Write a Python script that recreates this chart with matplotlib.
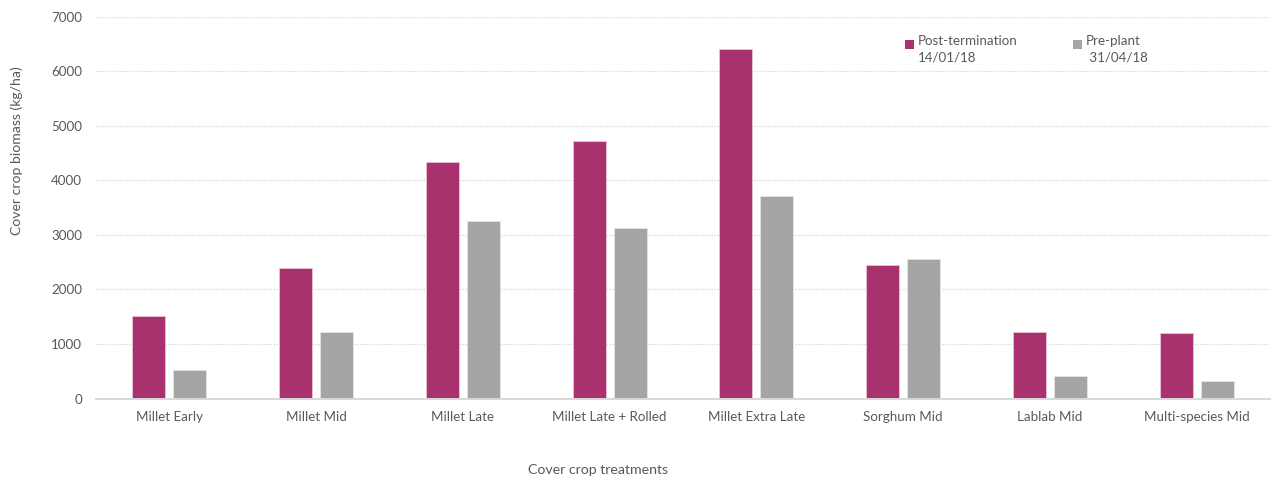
import matplotlib
matplotlib.use("Agg")
import matplotlib.pyplot as plt
import numpy as np
from matplotlib.patches import Rectangle
from matplotlib.legend_handler import HandlerBase

plt.rcParams['font.family'] = ['Lato', 'DejaVu Sans']

categories = ["Millet Early", "Millet Mid", "Millet Late", "Millet Late + Rolled",
              "Millet Extra Late", "Sorghum Mid", "Lablab Mid", "Multi-species Mid"]
post_termination = [1520, 2392, 4333, 4718, 6416, 2454, 1220, 1201]
pre_plant = [531, 1227, 3260, 3125, 3711, 2564, 421, 330]
series_labels = ["Post-termination\n14/01/18", "Pre-plant\n 31/04/18"]
yticks = [0, 1000, 2000, 3000, 4000, 5000, 6000, 7000]

c_post = "#A9316D"
c_pre = "#A5A5A5"
txt = "#595959"
grid_c = "#D9D9D9"


class TopSquareHandler(HandlerBase):
    """Square legend key aligned with the first line of a two-line label."""
    def create_artists(self, legend, orig_handle, xdescent, ydescent,
                       width, height, fontsize, trans):
        s = 0.68 * fontsize
        r = Rectangle((-xdescent, -ydescent + height - s - 0.2 * fontsize), s, s,
                      facecolor=orig_handle.get_facecolor(), edgecolor="none",
                      transform=trans)
        return [r]


fig = plt.figure(figsize=(12.71, 4.80), dpi=100)
ax = fig.add_axes([96 / 1271, 1 - 398.5 / 480, (1270 - 96) / 1271, (398.5 - 16.7) / 480])

x = np.arange(len(categories))
w = 0.225
off = 0.14
b1 = ax.bar(x - off, post_termination, w, color=c_post, edgecolor="#E9C4D6", linewidth=0.6,
            label=series_labels[0], zorder=3)
b2 = ax.bar(x + off, pre_plant, w, color=c_pre, edgecolor="#E4E4E4", linewidth=0.6,
            label=series_labels[1], zorder=3)

ax.set_xlim(-0.5, len(categories) - 0.5)
ax.set_ylim(0, 7000)
ax.set_yticks(yticks)
ax.set_yticklabels([str(v) for v in yticks])
ax.set_xticks(x)
ax.set_xticklabels(categories)

ax.yaxis.grid(True, color=grid_c, linestyle=(0, (1.2, 1.2)), linewidth=0.9, zorder=0)
ax.set_axisbelow(True)
for s in ["top", "right", "left"]:
    ax.spines[s].set_visible(False)
ax.spines["bottom"].set_color(grid_c)
ax.spines["bottom"].set_linewidth(1.4)
ax.spines["bottom"].set_zorder(4)

ax.tick_params(axis="both", length=0, labelsize=9.6, labelcolor=txt)
ax.tick_params(axis="y", pad=10)
ax.tick_params(axis="x", pad=9)

ax.set_ylabel("Cover crop biomass (kg/ha)", fontsize=10.1, color=txt)
ax.yaxis.set_label_coords(-0.062, 0.648)
ax.set_xlabel("Cover crop treatments", fontsize=10.2, color=txt)
ax.xaxis.set_label_coords(0.4276, -0.1715)

h1, h2 = b1.patches[0], b2.patches[0]
leg = fig.legend(handles=[h1, h2], labels=series_labels, ncol=2, frameon=False,
                 loc="upper left", bbox_to_anchor=(905 / 1271, 1 - 35 / 480),
                 fontsize=9.6, handlelength=0.7, handleheight=2.6, handletextpad=0.25,
                 columnspacing=4.2, borderpad=0, borderaxespad=0,
                 handler_map={h1: TopSquareHandler(), h2: TopSquareHandler()})
for t in leg.get_texts():
    t.set_color(txt)
    t.set_linespacing(1.5)

fig.savefig("out.png", dpi=100)
